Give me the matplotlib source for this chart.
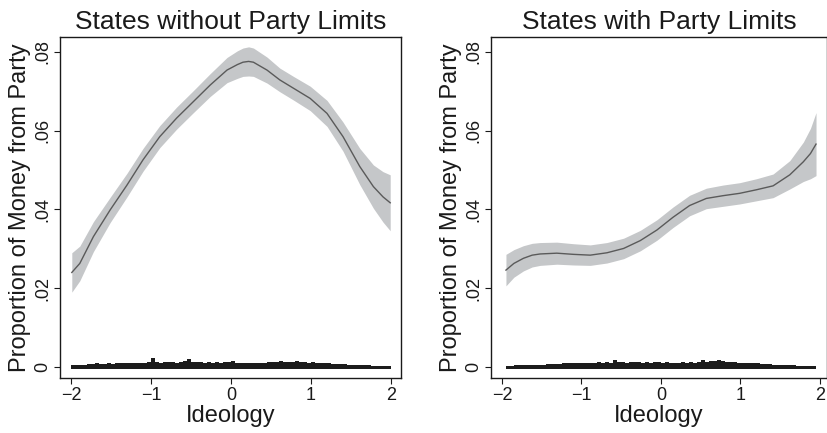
import numpy as np
import matplotlib
matplotlib.use("Agg")
import matplotlib.pyplot as plt

plt.rcParams['font.family'] = ['Liberation Sans', 'DejaVu Sans']

# Local polynomial fit of party share on ideology, with 95% band
left_x = [-1.99, -1.89, -1.72, -1.51, -1.30, -1.10, -0.89, -0.68, -0.47, -0.26, -0.05,
          0.08, 0.15, 0.22, 0.28, 0.45, 0.61, 0.78, 0.99, 1.20, 1.40, 1.61, 1.78, 1.90, 1.99]
left_fit = [0.0240, 0.0263, 0.0331, 0.0399, 0.0462, 0.0526, 0.0585, 0.0632, 0.0674, 0.0716, 0.0754,
            0.0768, 0.0774, 0.0776, 0.0774, 0.0754, 0.0729, 0.0708, 0.0682, 0.0644, 0.0585,
            0.0509, 0.0458, 0.0432, 0.0417]
left_hw = [0.0050, 0.0044, 0.0038, 0.0032, 0.0030, 0.0029, 0.0028, 0.0028, 0.0028, 0.0029, 0.0032,
           0.0035, 0.0036, 0.0037, 0.0036, 0.0033, 0.0030, 0.0030, 0.0031, 0.0033, 0.0037,
           0.0046, 0.0055, 0.0064, 0.0071]

right_x = [-1.95, -1.85, -1.73, -1.62, -1.52, -1.31, -1.10, -0.89, -0.68, -0.47, -0.26, -0.05,
           0.15, 0.36, 0.57, 0.78, 0.99, 1.20, 1.41, 1.62, 1.79, 1.88, 1.95]
right_fit = [0.0246, 0.0263, 0.0276, 0.0284, 0.0287, 0.0289, 0.0286, 0.0284, 0.0290, 0.0301,
             0.0321, 0.0348, 0.0380, 0.0410, 0.0428, 0.0435, 0.0441, 0.0450, 0.0460, 0.0488,
             0.0521, 0.0542, 0.0566]
right_hw = [0.0040, 0.0035, 0.0032, 0.0030, 0.0029, 0.0028, 0.0027, 0.0026, 0.0026, 0.0026,
            0.0026, 0.0026, 0.0026, 0.0026, 0.0026, 0.0027, 0.0027, 0.0028, 0.0030, 0.0036,
            0.0050, 0.0064, 0.0080]

# Observed data along the bottom, binned at 0.05 (heights in units of 1e-4)
rug_edges = np.arange(-2.0, 2.0001, 0.05)
left_rug = [5, 5, 6, 6, 7, 8, 9, 8, 8, 9,
            8, 9, 10, 9, 10, 10, 9, 11, 10, 12,
            24, 12, 11, 12, 13, 12, 11, 13, 14, 20,
            12, 13, 12, 11, 12, 11, 12, 11, 12, 13,
            15, 11, 10, 11, 10, 10, 11, 10, 11, 12,
            13, 12, 14, 12, 13, 12, 14, 12, 13, 11,
            12, 10, 11, 9, 9, 8, 8, 7, 7, 6,
            6, 5, 5, 4, 4, 3, 2, 2, 2, 2]
right_rug = [0, 2, 3, 4, 4, 5, 5, 5, 6, 6,
             6, 7, 7, 8, 8, 9, 9, 10, 9, 10,
             10, 11, 10, 11, 12, 11, 12, 11, 18, 12,
             12, 11, 13, 12, 12, 11, 12, 11, 12, 13,
             11, 12, 11, 10, 11, 12, 11, 12, 11, 13,
             18, 13, 14, 16, 17, 14, 13, 12, 12, 11,
             11, 10, 10, 9, 9, 8, 7, 7, 6, 5,
             5, 5, 4, 4, 3, 3, 2, 2, 2, 0]

titles = ["States without Party Limits", "States with Party Limits"]
yticks = [0, 0.02, 0.04, 0.06, 0.08]
ytick_labels = ["0", ".02", ".04", ".06", ".08"]
xticks = [-2, -1, 0, 1, 2]

fig = plt.figure(figsize=(8.28, 4.33), dpi=100)
W, H = 828, 433
ax_boxes = [(60, 37, 341, 341), (491, 37, 336, 341)]
xlims = [(-2.1375, 2.125), (-2.138, 2.088)]

panels = [(left_x, left_fit, left_hw, left_rug), (right_x, right_fit, right_hw, right_rug)]

for i, (x, fit, hw, rug) in enumerate(panels):
    px, py, pw, ph = ax_boxes[i]
    ax = fig.add_axes([px / W, 1 - (py + ph) / H, pw / W, ph / H])
    x = np.array(x)
    fit = np.array(fit)
    hw = np.array(hw)
    ax.fill_between(x, fit - hw, fit + hw, color="#c5c7c9", linewidth=0)
    ax.plot(x, fit, color="#5a5a5a", linewidth=1.0)

    centers = (rug_edges[:-1] + rug_edges[1:]) / 2
    heights = np.array(rug) * 1e-4
    mask = heights > 0
    base = -0.0004
    ax.bar(centers[mask], heights[mask] - base, bottom=base, width=0.05,
           color="#1c1c1c", linewidth=0)

    ax.set_xlim(*xlims[i])
    ax.set_ylim(-0.0028, 0.0838)
    ax.set_xticks(xticks)
    ax.set_yticks(yticks)
    ax.set_yticklabels(ytick_labels, rotation=90, va="center")
    ax.tick_params(direction="out", length=4, width=0.8, labelsize=13,
                   colors="#1a1a1a", pad=2.5)
    for s in ax.spines.values():
        s.set_linewidth(1.0)
        s.set_color("#1a1a1a")
    ax.set_title(titles[i], fontsize=19, pad=6, color="#1a1a1a")
    ax.set_xlabel("Ideology", fontsize=17, labelpad=1, color="#1a1a1a")
    ax.set_ylabel("Proportion of Money from Party", fontsize=17, labelpad=2,
                  color="#1a1a1a")

fig.savefig("out.png", dpi=100)
